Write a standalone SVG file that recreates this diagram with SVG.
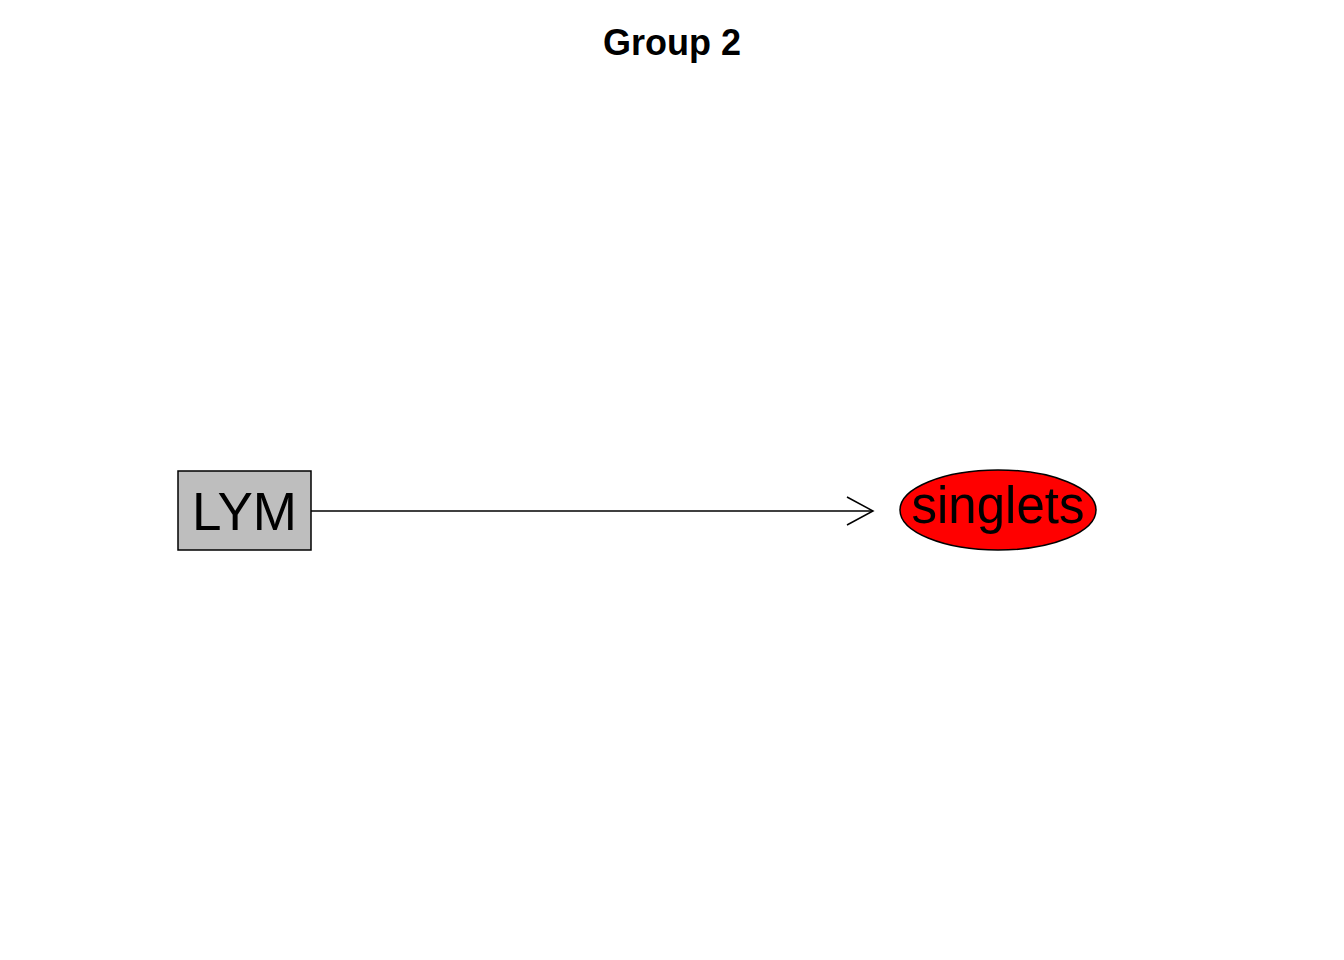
<svg xmlns="http://www.w3.org/2000/svg" width="1344" height="960" viewBox="0 0 1344 960">
<style>
.lbl{font-family:"Liberation Sans",Arial,sans-serif;font-size:53px;text-anchor:middle;fill:#000}
.title{font-family:"Liberation Sans",Arial,sans-serif;font-size:36px;font-weight:bold;text-anchor:middle;fill:#000}
.edge{stroke:#000;stroke-width:1.5;fill:none}
</style>
<rect width="1344" height="960" fill="#fff"/>
<text class="title" x="672" y="55">Group 2</text>
<g id="connectors">
<line class="edge" x1="311" y1="511" x2="873" y2="511"/>
<polyline class="edge" points="847,497 873,511 847,525"/>
</g>
<g id="node-LYM">
<rect x="178" y="471" width="133" height="79" fill="#bebebe" stroke="#000" stroke-width="1.5"/>
<text class="lbl" x="244.5" y="530">LYM</text>
</g>
<g id="node-singlets">
<ellipse cx="998" cy="510" rx="98" ry="40" fill="#ff0000" stroke="#000" stroke-width="1.5"/>
<text class="lbl" x="998" y="523" style="font-size:51px">singlets</text>
</g>
</svg>
